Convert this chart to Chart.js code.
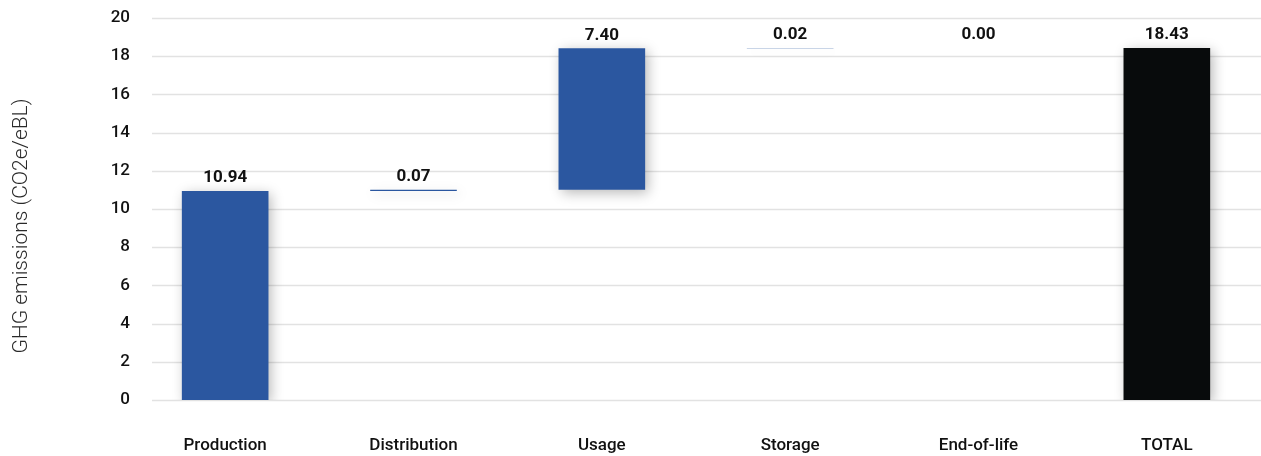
<!DOCTYPE html>
<html>
<head>
<meta charset="utf-8">
<script src="https://cdn.jsdelivr.net/npm/chart.js@4/dist/chart.umd.min.js"></script>
<style>
  html, body { margin: 0; padding: 0; background: #ffffff; }
  #wrap { width: 1261px; height: 456px; position: relative; }
</style>
</head>
<body>
<div id="wrap"><canvas id="chart"></canvas></div>
<script>
// Life-cycle stages and the emissions each one adds (CO2e per eBL)
const categories = ['Production', 'Distribution', 'Usage', 'Storage', 'End-of-life', 'TOTAL'];
const stageValues = [10.94, 0.07, 7.40, 0.02, 0.00, 18.43];
const isTotal = [false, false, false, false, false, true];
const yTicks = [0, 2, 4, 6, 8, 10, 12, 14, 16, 18, 20];

const BLUE = '#2b57a0';
const BLACK = '#080b0c';

// Waterfall: each stage floats on top of the running sum, the total starts at zero
const floating = [];
let running = 0;
stageValues.forEach((v, i) => {
  if (isTotal[i]) {
    floating.push([0, v]);
  } else {
    floating.push([running, running + v]);
    running += v;
  }
});

const FONT = 'Roboto, "Open Sans", "DejaVu Sans", sans-serif';

// Horizontal gridlines, starting a little right of the tick labels
const gridPlugin = {
  id: 'gridLines',
  beforeDatasetsDraw(chart) {
    const { ctx, chartArea, scales } = chart;
    ctx.save();
    ctx.strokeStyle = '#e2e2e2';
    ctx.lineWidth = 1.5;
    yTicks.forEach(t => {
      const y = Math.round(scales.y.getPixelForValue(t)) + 0.5;
      ctx.beginPath();
      ctx.moveTo(chartArea.left + 21, y);
      ctx.lineTo(chart.width, y);
      ctx.stroke();
    });
    ctx.restore();
  }
};

// Soft drop shadow under the bars
const shadowPlugin = {
  id: 'barShadow',
  beforeDatasetDraw(chart) {
    const ctx = chart.ctx;
    ctx.save();
    ctx.shadowColor = 'rgba(0,0,0,0.28)';
    ctx.shadowBlur = 12;
    ctx.shadowOffsetX = 3;
    ctx.shadowOffsetY = 3;
  },
  afterDatasetDraw(chart) {
    chart.ctx.restore();
  }
};

// Value labels above each bar's end
const valueLabelPlugin = {
  id: 'valueLabels',
  afterDatasetsDraw(chart) {
    const { ctx, scales } = chart;
    ctx.save();
    ctx.font = 'bold 17px ' + FONT;
    ctx.fillStyle = '#111111';
    ctx.textAlign = 'center';
    ctx.textBaseline = 'middle';
    floating.forEach((range, i) => {
      const x = scales.x.getPixelForValue(i);
      const y = scales.y.getPixelForValue(range[1]) - 13;
      ctx.fillText(stageValues[i].toFixed(2), x, y);
    });
    ctx.restore();
  }
};

// Rotated y-axis title
const yTitlePlugin = {
  id: 'yTitle',
  afterDraw(chart) {
    const ctx = chart.ctx;
    ctx.save();
    ctx.translate(22, 226);
    ctx.rotate(-Math.PI / 2);
    ctx.font = '300 21px ' + FONT;
    ctx.fillStyle = '#2a2a2a';
    ctx.textAlign = 'center';
    ctx.textBaseline = 'middle';
    ctx.fillText('GHG emissions (CO2e/eBL)', 0, 0);
    ctx.restore();
  }
};

new Chart(document.getElementById('chart'), {
  type: 'bar',
  data: {
    labels: categories,
    datasets: [{
      data: floating,
      backgroundColor: isTotal.map(t => t ? BLACK : BLUE),
      borderWidth: 0,
      borderSkipped: false,
      barPercentage: 0.46,
      categoryPercentage: 1.0
    }]
  },
  options: {
    responsive: true,
    maintainAspectRatio: false,
    animation: false,
    layout: { padding: { top: 18, right: 0, bottom: 0, left: 0 } },
    plugins: {
      legend: { display: false },
      tooltip: { enabled: false }
    },
    scales: {
      x: {
        offset: true,
        afterFit(scale) { scale.height = 56; },
        grid: { display: false, drawTicks: false },
        border: { display: false },
        ticks: {
          padding: 36,
          maxRotation: 0,
          color: '#111111',
          font: { family: FONT, size: 17, weight: '500' }
        }
      },
      y: {
        min: 0,
        max: 20,
        afterFit(scale) { scale.width = 131; },
        afterBuildTicks(scale) { scale.ticks = yTicks.map(v => ({ value: v })); },
        grid: { display: false, drawTicks: false },
        border: { display: false },
        ticks: {
          padding: 1,
          color: '#111111',
          font: { family: FONT, size: 17, weight: '500' }
        }
      }
    }
  },
  plugins: [gridPlugin, shadowPlugin, valueLabelPlugin, yTitlePlugin]
});
</script>
</body>
</html>
